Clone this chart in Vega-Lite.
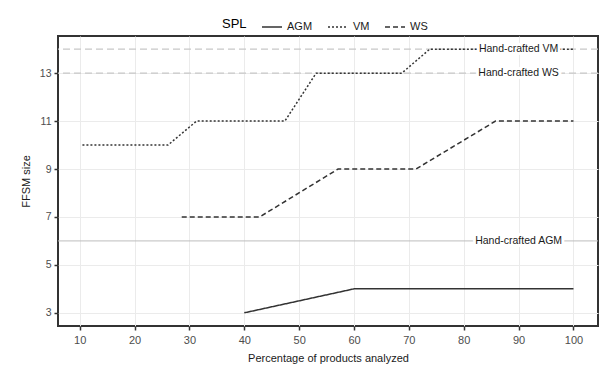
{
  "$schema": "https://vega.github.io/schema/vega-lite/v6.json",
  "width": 540,
  "height": 290,
  "autosize": {"type": "none"},
  "padding": {"left": 58, "top": 36, "right": 2, "bottom": 41},
  "background": "white",
  "datasets": {
    "series": [
      {"spl": "AGM", "pct": 40, "size": 3},
      {"spl": "AGM", "pct": 60, "size": 4},
      {"spl": "AGM", "pct": 100, "size": 4},
      {"spl": "VM", "pct": 10.5, "size": 10},
      {"spl": "VM", "pct": 26.1, "size": 10},
      {"spl": "VM", "pct": 31.3, "size": 11},
      {"spl": "VM", "pct": 47.4, "size": 11},
      {"spl": "VM", "pct": 53.1, "size": 13},
      {"spl": "VM", "pct": 68.7, "size": 13},
      {"spl": "VM", "pct": 73.8, "size": 14},
      {"spl": "VM", "pct": 100, "size": 14},
      {"spl": "WS", "pct": 28.6, "size": 7},
      {"spl": "WS", "pct": 42.8, "size": 7},
      {"spl": "WS", "pct": 57.1, "size": 9},
      {"spl": "WS", "pct": 71.3, "size": 9},
      {"spl": "WS", "pct": 85.8, "size": 11},
      {"spl": "WS", "pct": 100, "size": 11}
    ],
    "refs": [
      {"spl": "AGM", "size": 6, "label": "Hand-crafted AGM"},
      {"spl": "VM", "size": 14, "label": "Hand-crafted VM"},
      {"spl": "WS", "size": 13, "label": "Hand-crafted WS"}
    ]
  },
  "config": {
    "font": "Liberation Sans",
    "view": {"stroke": "#333333", "strokeWidth": 2},
    "axis": {
      "gridColor": "#ebebeb",
      "labelColor": "#4d4d4d",
      "labelFont": "Liberation Sans",
      "labelFontSize": 11,
      "labelOverlap": false,
      "tickColor": "#333333",
      "tickSize": 4,
      "tickWidth": 1.5,
      "domain": false,
      "titleFont": "Liberation Sans",
      "titleFontWeight": "normal",
      "titleColor": "#1a1a1a",
      "titleFontSize": 11
    },
    "legend": {
      "orient": "none",
      "legendX": 164,
      "legendY": -20,
      "direction": "horizontal",
      "titleOrient": "left",
      "titleFont": "Liberation Sans",
      "titleFontSize": 13,
      "titleFontWeight": "normal",
      "titleColor": "#000000",
      "titlePadding": 14,
      "labelFont": "Liberation Sans",
      "labelFontSize": 11,
      "labelColor": "#1a1a1a",
      "labelOffset": 4,
      "columnPadding": 12,
      "symbolType": "stroke",
      "symbolSize": 400,
      "symbolStrokeWidth": 1.5,
      "symbolStrokeColor": "#333333",
      "padding": 0
    }
  },
  "layer": [
    {
      "data": {"name": "refs"},
      "transform": [{"filter": "datum.spl !== 'AGM'"}],
      "mark": {"type": "rule", "color": "#c8c8c8", "strokeWidth": 1.3, "strokeDash": [7, 4]},
      "encoding": {
        "y": {"field": "size", "type": "quantitative"}
      }
    },
    {
      "data": {"name": "refs"},
      "transform": [{"filter": "datum.spl === 'AGM'"}],
      "mark": {"type": "rule", "color": "#bdbdbd", "strokeWidth": 1},
      "encoding": {
        "y": {"field": "size", "type": "quantitative"}
      }
    },
    {
      "data": {"name": "series"},
      "mark": {"type": "line", "color": "#333333", "strokeWidth": 1.5},
      "encoding": {
        "x": {
          "field": "pct", "type": "quantitative",
          "scale": {"domain": [6.05, 104.47], "nice": false, "zero": false},
          "axis": {
            "values": [10, 15, 20, 25, 30, 35, 40, 45, 50, 55, 60, 65, 70, 75, 80, 85, 90, 95, 100],
            "grid": true,
            "labelOverlap": false,
            "tickColor": {"condition": {"test": "datum.value % 10 !== 0", "value": "transparent"}, "value": "#333333"},
            "labelExpr": "datum.value % 10 === 0 ? datum.label : ''",
            "labelPadding": 4,
            "titlePadding": 7,
            "title": "Percentage of products analyzed"
          }
        },
        "y": {
          "field": "size", "type": "quantitative",
          "scale": {"domain": [2.45, 14.55], "nice": false, "zero": false},
          "axis": {
            "values": [3, 4, 5, 6, 7, 8, 9, 10, 11, 12, 13, 14],
            "grid": true,
            "labelOverlap": false,
            "labelSeparation": 0,
            "labelFontSize": 10.5,
            "labelPadding": 3,
            "titlePadding": 8,
            "title": "FFSM size"
          }
        },
        "strokeDash": {
          "field": "spl", "type": "nominal",
          "scale": {"domain": ["AGM", "VM", "WS"], "range": [[1, 0], [2, 2], [5, 3]]},
          "legend": {"title": "SPL"}
        }
      }
    },
    {
      "data": {"name": "refs"},
      "mark": {"type": "text", "fontSize": 10.5, "font": "Liberation Sans", "stroke": "white", "strokeWidth": 6, "fill": "white", "align": "center", "baseline": "middle"},
      "encoding": {
        "x": {"datum": 90, "type": "quantitative"},
        "y": {"field": "size", "type": "quantitative"},
        "text": {"field": "label"}
      }
    },
    {
      "data": {"name": "refs"},
      "mark": {"type": "text", "fontSize": 10.5, "font": "Liberation Sans", "color": "#1a1a1a", "align": "center", "baseline": "middle"},
      "encoding": {
        "x": {"datum": 90, "type": "quantitative"},
        "y": {"field": "size", "type": "quantitative"},
        "text": {"field": "label"}
      }
    }
  ]
}
